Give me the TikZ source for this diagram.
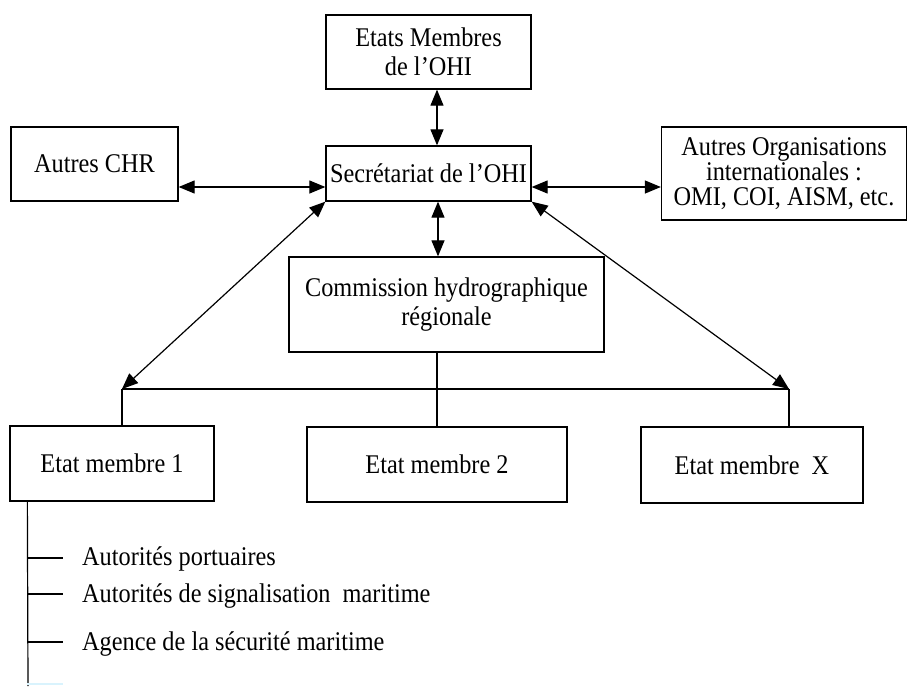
\documentclass[tikz,border=0pt]{standalone}
\usepackage{fontspec}
\setmainfont[FakeStretch=0.9]{Liberation Serif}
\usetikzlibrary{arrows.meta}
\begin{document}
\begin{tikzpicture}[x=1pt,y=-1pt,
  box/.style={draw, line width=1.3pt, rectangle, inner sep=0pt, align=center,
              font=\fontsize{27}{29}\selectfont},
  lbl/.style={anchor=west, inner sep=0pt, font=\fontsize{27}{29}\selectfont},
  dbl/.style={line width=1.2pt, {Triangle[length=16pt,width=13pt]}-{Triangle[length=16pt,width=13pt]}},
  ln/.style={line width=1.2pt}]
\useasboundingbox (0,0) rectangle (908,686);

% boxes
\node[box, minimum width=205pt, minimum height=74pt] (etats) at (428.5,52) {Etats Membres\\de l’OHI};
\node[box, minimum width=205pt, minimum height=55pt] (sec) at (428.5,173.5) {Secrétariat de l’OHI};
\node[box, minimum width=167pt, minimum height=74pt] (chr) at (94.5,164) {Autres CHR};
\node[box, minimum width=245pt, minimum height=93pt, font=\fontsize{27}{25}\selectfont] (org) at (784,173.5)
  {Autres Organisations\\internationales :\\OMI, COI, AISM, etc.};
\node[box, minimum width=315pt, minimum height=95pt] (comm) at (446.5,304.5) {Commission hydrographique\\régionale};
\node[box, minimum width=204pt, minimum height=75pt] (e1) at (112,463.5) {Etat membre 1};
\node[box, minimum width=260pt, minimum height=75pt] (e2) at (437,464.5) {Etat membre 2};
\node[box, minimum width=222pt, minimum height=76pt] (ex) at (752,465) {Etat membre\ \ X};

% junction points
\coordinate (j1) at (122,389);
\coordinate (j2) at (789,389);

% arrows around the secretariat
\draw[dbl] ([xshift=8.5pt]etats.south) -- ([xshift=8.5pt]sec.north);
\draw[dbl] ([xshift=9.5pt]sec.south) -- ([xshift=-8.5pt]comm.north);
\draw[dbl] ([yshift=-23pt]chr.east) -- ([yshift=-13.5pt]sec.west);
\draw[dbl] ([yshift=-13.5pt]sec.east) -- ([yshift=-13.5pt]org.west);
\draw[dbl] (sec.south west) -- (j1);
\draw[dbl] (sec.south east) -- (j2);

% distribution to member states
\draw[ln] (j1) -- (j2);
\draw[ln] (j1) -- (j1 |- e1.north);
\draw[ln] (j2) -- (j2 |- ex.north);
\draw[ln] (e2.north |- comm.south) -- (e2.north);

% list under member state 1
\coordinate (s0) at ([xshift=18pt]e1.south west);
\coordinate (s1) at (28,686);
\node[lbl] (l1) at (82,559) {Autorités portuaires};
\node[lbl] (l2) at (82,596) {Autorités de signalisation\ \ maritime};
\node[lbl] (l3) at (82,644) {Agence de la sécurité maritime};
\draw[ln] (s0) -- (s1);
\draw[ln] (s0 |- 0,558) -- (63,558);
\draw[ln] (s0 |- 0,594) -- (63,594);
\draw[ln] (s0 |- 0,642) -- (63,642);
\draw[line width=1.2pt, color=cyan!15] (s0 |- 0,684) -- (63,684);
\end{tikzpicture}
\end{document}
